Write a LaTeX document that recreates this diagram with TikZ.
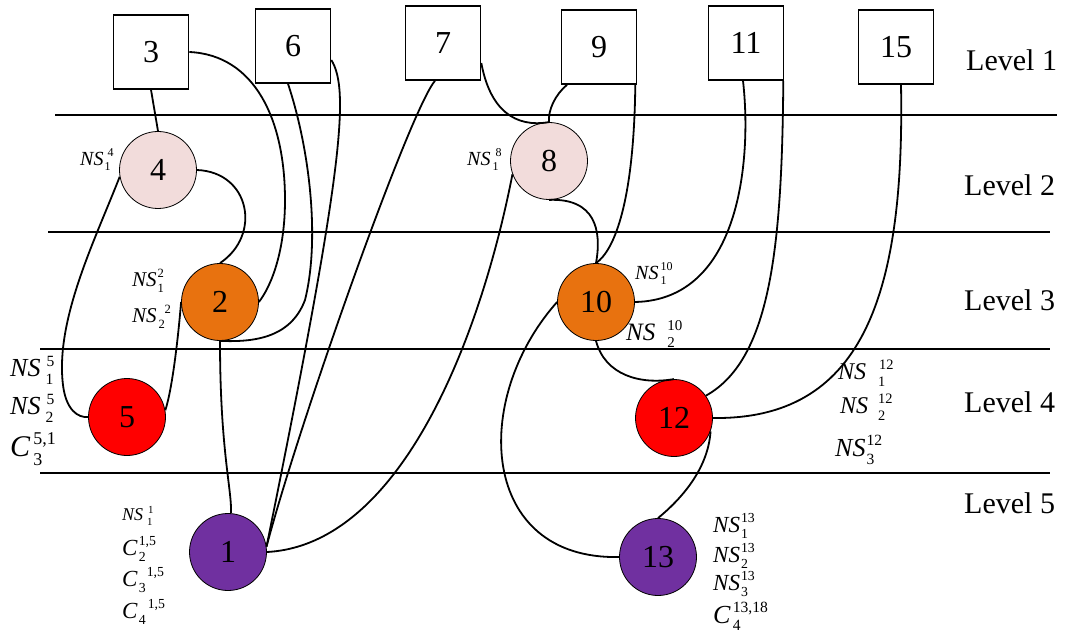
\documentclass[tikz,border=0pt]{standalone}
\usepackage{fontspec}
\setmainfont{Liberation Serif}
\usepackage{graphicx}
% stacked label: base, superscript, subscript, gap after base, extra shift of superscript
\newcommand\stk[5]{\textit{#1}\hspace{#4}\rlap{\hspace{#5}\raisebox{0.42em}{\scalebox{0.6}{#2}}}\raisebox{-0.28em}{\scalebox{0.6}{#3}}}
\definecolor{pinkfill}{HTML}{F2DCDB}
\definecolor{orangefill}{HTML}{E8720F}
\definecolor{redfill}{HTML}{FF0000}
\definecolor{purplefill}{HTML}{7030A0}
\begin{document}
\begin{tikzpicture}[x=1pt,y=-1pt,
  sq/.style={draw, line width=1.6pt, minimum width=75pt, minimum height=74pt, inner sep=0pt, fill=white, font=\fontsize{32}{32}\selectfont},
  circ/.style={circle, draw, line width=0.8pt, minimum size=77pt, inner sep=0pt, font=\fontsize{32}{32}\selectfont},
  link/.style={line width=1.8pt},
  sep/.style={line width=1.6pt},
  lvl/.style={anchor=west, inner sep=0pt, font=\fontsize{30}{30}\selectfont},
  lab/.style={anchor=west, inner sep=0pt}]
\useasboundingbox (0,0) rectangle (1070,636);

% level separators
\draw[sep] (55,115) -- (1057,115);
\draw[sep] (48,232) -- (1050,232);
\draw[sep] (40,349) -- (1050,349);
\draw[sep] (40,473) -- (1050,473);

% level names
\node[lvl] at (966,60) {Level 1};
\node[lvl] at (964,185) {Level 2};
\node[lvl] at (964,300) {Level 3};
\node[lvl] at (964,402) {Level 4};
\node[lvl] at (964,503) {Level 5};

% level 1 boxes
\node[sq] (b3)  at (151,52) {3};
\node[sq] (b6)  at (293,46) {6};
\node[sq] (b7)  at (443,43) {7};
\node[sq] (b9)  at (599,47) {9};
\node[sq] (b11) at (746,43) {11};
\node[sq] (b15) at (896,47) {15};

% circles
\node[circ, fill=pinkfill]   (n4)  at (158,170) {4};
\node[circ, fill=pinkfill]   (n8)  at (549,161) {8};
\node[circ, fill=orangefill] (n2)  at (220,302) {2};
\node[circ, fill=orangefill] (n10) at (596,302) {10};
\node[circ, fill=redfill]    (n5)  at (127,417) {5};
\node[circ, fill=redfill]    (n12) at (674,418) {12};
\node[circ, fill=purplefill] (n1)  at (228,552) {1};
\node[circ, fill=purplefill] (n13) at (658,557) {13};

% connectors
\draw[link] (b3.south) -- (n4.north);
\draw[link] (b3.east) .. controls (255,55) and (285,120) .. (285,200) .. controls (285,250) and (272,285) .. (n2.east);
\draw[link] (n4.east) .. controls (250,172) and (262,235) .. (n2.north);
\draw[link] (n4.190) .. controls (95,240) and (55,320) .. (63,385) .. controls (66,410) and (78,418) .. (n5.west);
\draw[link] (n2.west) .. controls (178,340) and (172,390) .. (n5.10);
\draw[link] ([xshift=-5pt]b6.south) .. controls (310,150) and (320,240) .. (305,300) .. controls (290,340) and (250,342) .. (n2.south);
\draw[link] ([yshift=-14pt]b6.east) .. controls (350,90) and (343,170) .. (n1.8);
\draw[link] ([xshift=-8pt]b7.south) .. controls (410,110) and (300,420) .. (n1.8);
\draw[link] ([yshift=-20pt]b7.east) .. controls (490,110) and (515,128) .. (n8.north);
\draw[link] ([xshift=-32pt]b9.south) .. controls (555,95) and (548,110) .. (n8.north);
\draw[link] (n8.south) .. controls (595,198) and (602,230) .. (n10.north);
\draw[link] ([xshift=-2pt]b9.south east) .. controls (634,200) and (615,250) .. (n10.north);
\draw[link] ([xshift=-3pt]b11.south) .. controls (752,160) and (740,300) .. (n10.east);
\draw[link] ([xshift=-1pt]b11.south east) .. controls (782,250) and (770,360) .. (n12.35);
\draw[link] ([xshift=5pt]b15.south) .. controls (905,300) and (860,420) .. (n12.east);
\draw[link] (n10.south) .. controls (605,375) and (640,385) .. (n12.north);
\draw[link] (n10.west) .. controls (470,400) and (480,560) .. (n13.west);
\draw[link] (n12.-20) .. controls (708,470) and (680,500) .. (n13.north);
\draw[link] (n2.south) .. controls (220,450) and (232,490) .. ([xshift=3pt]n1.north);
\draw[link] (n1.east) .. controls (400,545) and (480,340) .. (n8.200);

% node labels
\node[lab, font=\fontsize{20}{20}\selectfont] at (80,160) {\stk{NS}{4}{1}{1pt}{3pt}};
\node[lab, font=\fontsize{20}{20}\selectfont] at (467,160) {\stk{NS}{8}{1}{2pt}{3pt}};
\node[lab, font=\fontsize{21}{21}\selectfont] at (132,281) {\stk{NS}{2}{1}{1pt}{0pt}};
\node[lab, font=\fontsize{21}{21}\selectfont] at (132,317) {\stk{NS}{2}{2}{2pt}{6pt}};
\node[lab, font=\fontsize{20}{20}\selectfont] at (635,274) {\stk{NS}{10}{1}{2pt}{0pt}};
\node[lab, font=\fontsize{25}{25}\selectfont] at (626,334) {\stk{NS}{10}{2}{12pt}{0pt}};
\node[lab, font=\fontsize{26}{26}\selectfont] at (10,370) {\stk{NS}{5}{1}{5pt}{1pt}};
\node[lab, font=\fontsize{26}{26}\selectfont] at (10,408) {\stk{NS}{5}{2}{5pt}{1pt}};
\node[lab, font=\fontsize{30}{30}\selectfont] at (10,449) {\stk{C}{5,1}{3}{3pt}{0pt}};
\node[lab, font=\fontsize{24}{24}\selectfont] at (838,373) {\stk{NS}{12}{1}{12pt}{1pt}};
\node[lab, font=\fontsize{24}{24}\selectfont] at (840,407) {\stk{NS}{12}{2}{10pt}{0pt}};
\node[lab, font=\fontsize{26}{26}\selectfont] at (835,450) {\stk{NS}{12}{3}{1pt}{0pt}};
\node[lab, font=\fontsize{18}{18}\selectfont] at (122,516) {\stk{NS}{1}{1}{4pt}{1pt}};
\node[lab, font=\fontsize{23}{23}\selectfont] at (122,549) {\stk{C}{1,5}{2}{1pt}{0pt}};
\node[lab, font=\fontsize{23}{23}\selectfont] at (122,580) {\stk{C}{1,5}{3}{1pt}{8pt}};
\node[lab, font=\fontsize{23}{23}\selectfont] at (122,612) {\stk{C}{1,5}{4}{1pt}{9pt}};
\node[lab, font=\fontsize{23}{23}\selectfont] at (713,526) {\stk{NS}{13}{1}{1pt}{0pt}};
\node[lab, font=\fontsize{23}{23}\selectfont] at (713,556) {\stk{NS}{13}{2}{1pt}{0pt}};
\node[lab, font=\fontsize{23}{23}\selectfont] at (713,584) {\stk{NS}{13}{3}{1pt}{0pt}};
\node[lab, font=\fontsize{26}{26}\selectfont] at (713,616) {\stk{C}{13,18}{4}{2pt}{0pt}};
\end{tikzpicture}
\end{document}
